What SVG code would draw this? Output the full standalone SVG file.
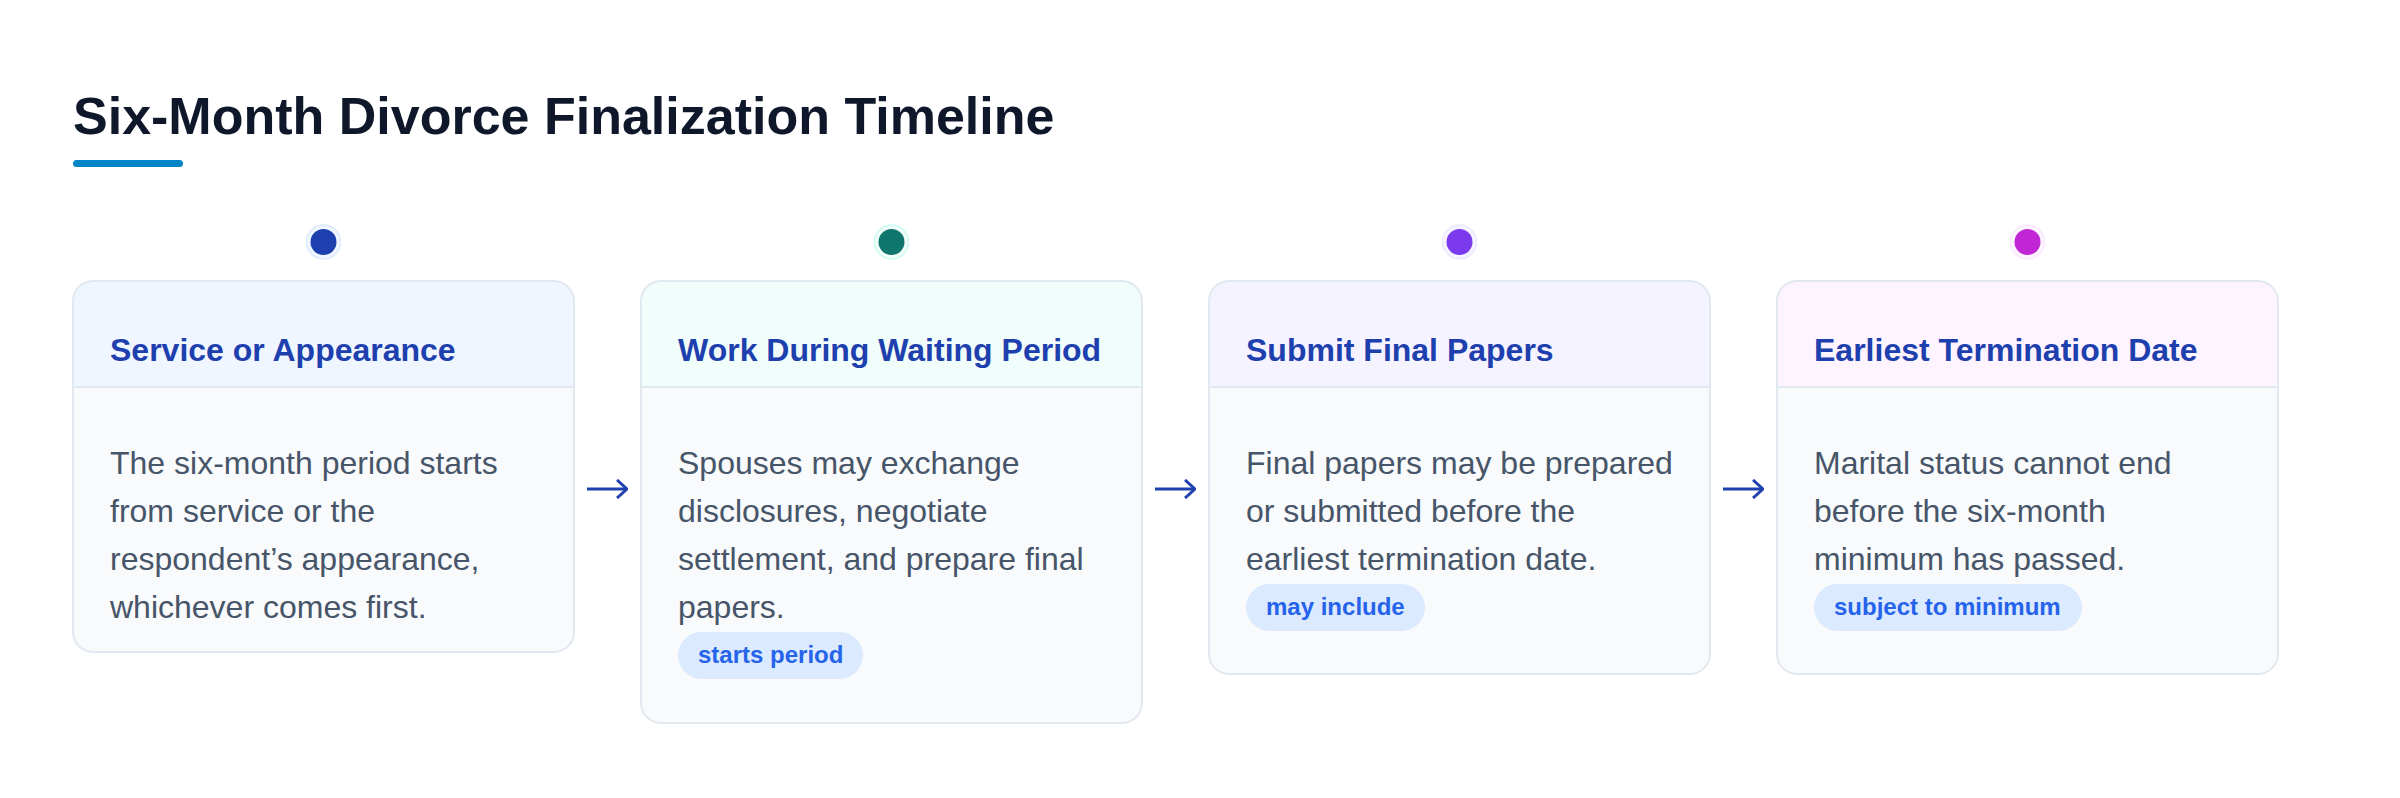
<svg xmlns="http://www.w3.org/2000/svg" width="2400" height="798" viewBox="0 0 2400 798">
  <defs>
    <style>
      .title { font-family: "Liberation Sans", Arial, sans-serif; font-weight: 700; font-size: 52px; fill: #0f172a; }
      .card { fill: #f8fafc; }
      .border { fill: none; stroke: #e2e8f0; stroke-width: 2; }
      .sep { stroke: #e2e8f0; stroke-width: 2; }
      .head { font-family: "Liberation Sans", Arial, sans-serif; font-weight: 700; font-size: 32px; fill: #1e40af; }
      .body { font-family: "Liberation Sans", Arial, sans-serif; font-size: 32px; fill: #475569; }
      .pill { fill: #dbeafe; }
      .pilltext { font-family: "Liberation Sans", Arial, sans-serif; font-weight: 700; font-size: 24px; fill: #2563eb; }
      .conn { fill: none; stroke: #1e40af; stroke-width: 3; }
      .ring { stroke-width: 1.5; }
    </style>
    <marker id="arrowhead" viewBox="0 0 12 20" refX="11" refY="10" markerWidth="12" markerHeight="20" markerUnits="userSpaceOnUse" orient="auto">
      <path d="M1,1 L11,10 L1,19" fill="none" stroke="#1e40af" stroke-width="3"/>
    </marker>
  </defs>
  <rect x="0" y="0" width="2400" height="798" fill="#ffffff"/>

  <g id="title">
    <text class="title" x="73" y="134">Six-Month Divorce Finalization Timeline</text>
    <rect x="73" y="160" width="110" height="7" rx="3.5" fill="#0284c7"/>
  </g>

  <g id="node-1">
    <circle cx="323.5" cy="242" r="17" fill="#eff6ff" stroke="#dbeafe" class="ring"/>
    <circle cx="323.5" cy="242" r="13" fill="#1e40af"/>
    <rect class="card" x="73" y="281" width="501" height="371" rx="20"/>
    <path d="M73,387 V301 A20,20 0 0 1 93,281 H554 A20,20 0 0 1 574,301 V387 Z" fill="#eff6ff"/>
    <line class="sep" x1="73" y1="387" x2="574" y2="387"/>
    <rect class="border" x="73" y="281" width="501" height="371" rx="20"/>
    <text class="head" x="110" y="361">Service or Appearance</text>
    <text class="body" x="110" y="474">The six-month period starts</text>
    <text class="body" x="110" y="522">from service or the</text>
    <text class="body" x="110" y="570">respondent’s appearance,</text>
    <text class="body" x="110" y="618">whichever comes first.</text>
  </g>

  <g id="node-2">
    <circle cx="891.5" cy="242" r="17" fill="#f0fdfa" stroke="#ccfbf1" class="ring"/>
    <circle cx="891.5" cy="242" r="13" fill="#0f766e"/>
    <rect class="card" x="641" y="281" width="501" height="442" rx="20"/>
    <path d="M641,387 V301 A20,20 0 0 1 661,281 H1122 A20,20 0 0 1 1142,301 V387 Z" fill="#f0fdfa"/>
    <line class="sep" x1="641" y1="387" x2="1142" y2="387"/>
    <rect class="border" x="641" y="281" width="501" height="442" rx="20"/>
    <text class="head" x="678" y="361">Work During Waiting Period</text>
    <text class="body" x="678" y="474">Spouses may exchange</text>
    <text class="body" x="678" y="522">disclosures, negotiate</text>
    <text class="body" x="678" y="570">settlement, and prepare final</text>
    <text class="body" x="678" y="618">papers.</text>
    <rect class="pill" x="678" y="632" width="185" height="47" rx="23.5"/>
    <text class="pilltext" x="698" y="663">starts period</text>
  </g>

  <g id="node-3">
    <circle cx="1459.5" cy="242" r="17" fill="#f5f3ff" stroke="#ede9fe" class="ring"/>
    <circle cx="1459.5" cy="242" r="13" fill="#7c3aed"/>
    <rect class="card" x="1209" y="281" width="501" height="393" rx="20"/>
    <path d="M1209,387 V301 A20,20 0 0 1 1229,281 H1690 A20,20 0 0 1 1710,301 V387 Z" fill="#f5f3ff"/>
    <line class="sep" x1="1209" y1="387" x2="1710" y2="387"/>
    <rect class="border" x="1209" y="281" width="501" height="393" rx="20"/>
    <text class="head" x="1246" y="361">Submit Final Papers</text>
    <text class="body" x="1246" y="474">Final papers may be prepared</text>
    <text class="body" x="1246" y="522">or submitted before the</text>
    <text class="body" x="1246" y="570">earliest termination date.</text>
    <rect class="pill" x="1246" y="584" width="179" height="47" rx="23.5"/>
    <text class="pilltext" x="1266" y="615">may include</text>
  </g>

  <g id="node-4">
    <circle cx="2027.5" cy="242" r="17" fill="#fdf4ff" stroke="#fae8ff" class="ring"/>
    <circle cx="2027.5" cy="242" r="13" fill="#c026d3"/>
    <rect class="card" x="1777" y="281" width="501" height="393" rx="20"/>
    <path d="M1777,387 V301 A20,20 0 0 1 1797,281 H2258 A20,20 0 0 1 2278,301 V387 Z" fill="#fdf4ff"/>
    <line class="sep" x1="1777" y1="387" x2="2278" y2="387"/>
    <rect class="border" x="1777" y="281" width="501" height="393" rx="20"/>
    <text class="head" x="1814" y="361">Earliest Termination Date</text>
    <text class="body" x="1814" y="474">Marital status cannot end</text>
    <text class="body" x="1814" y="522">before the six-month</text>
    <text class="body" x="1814" y="570">minimum has passed.</text>
    <rect class="pill" x="1814" y="584" width="268" height="47" rx="23.5"/>
    <text class="pilltext" x="1834" y="615">subject to minimum</text>
  </g>

  <g id="connectors">
    <path class="conn" d="M587,489 H627" marker-end="url(#arrowhead)"/>
    <path class="conn" d="M1155,489 H1195" marker-end="url(#arrowhead)"/>
    <path class="conn" d="M1723,489 H1763" marker-end="url(#arrowhead)"/>
  </g>
</svg>
